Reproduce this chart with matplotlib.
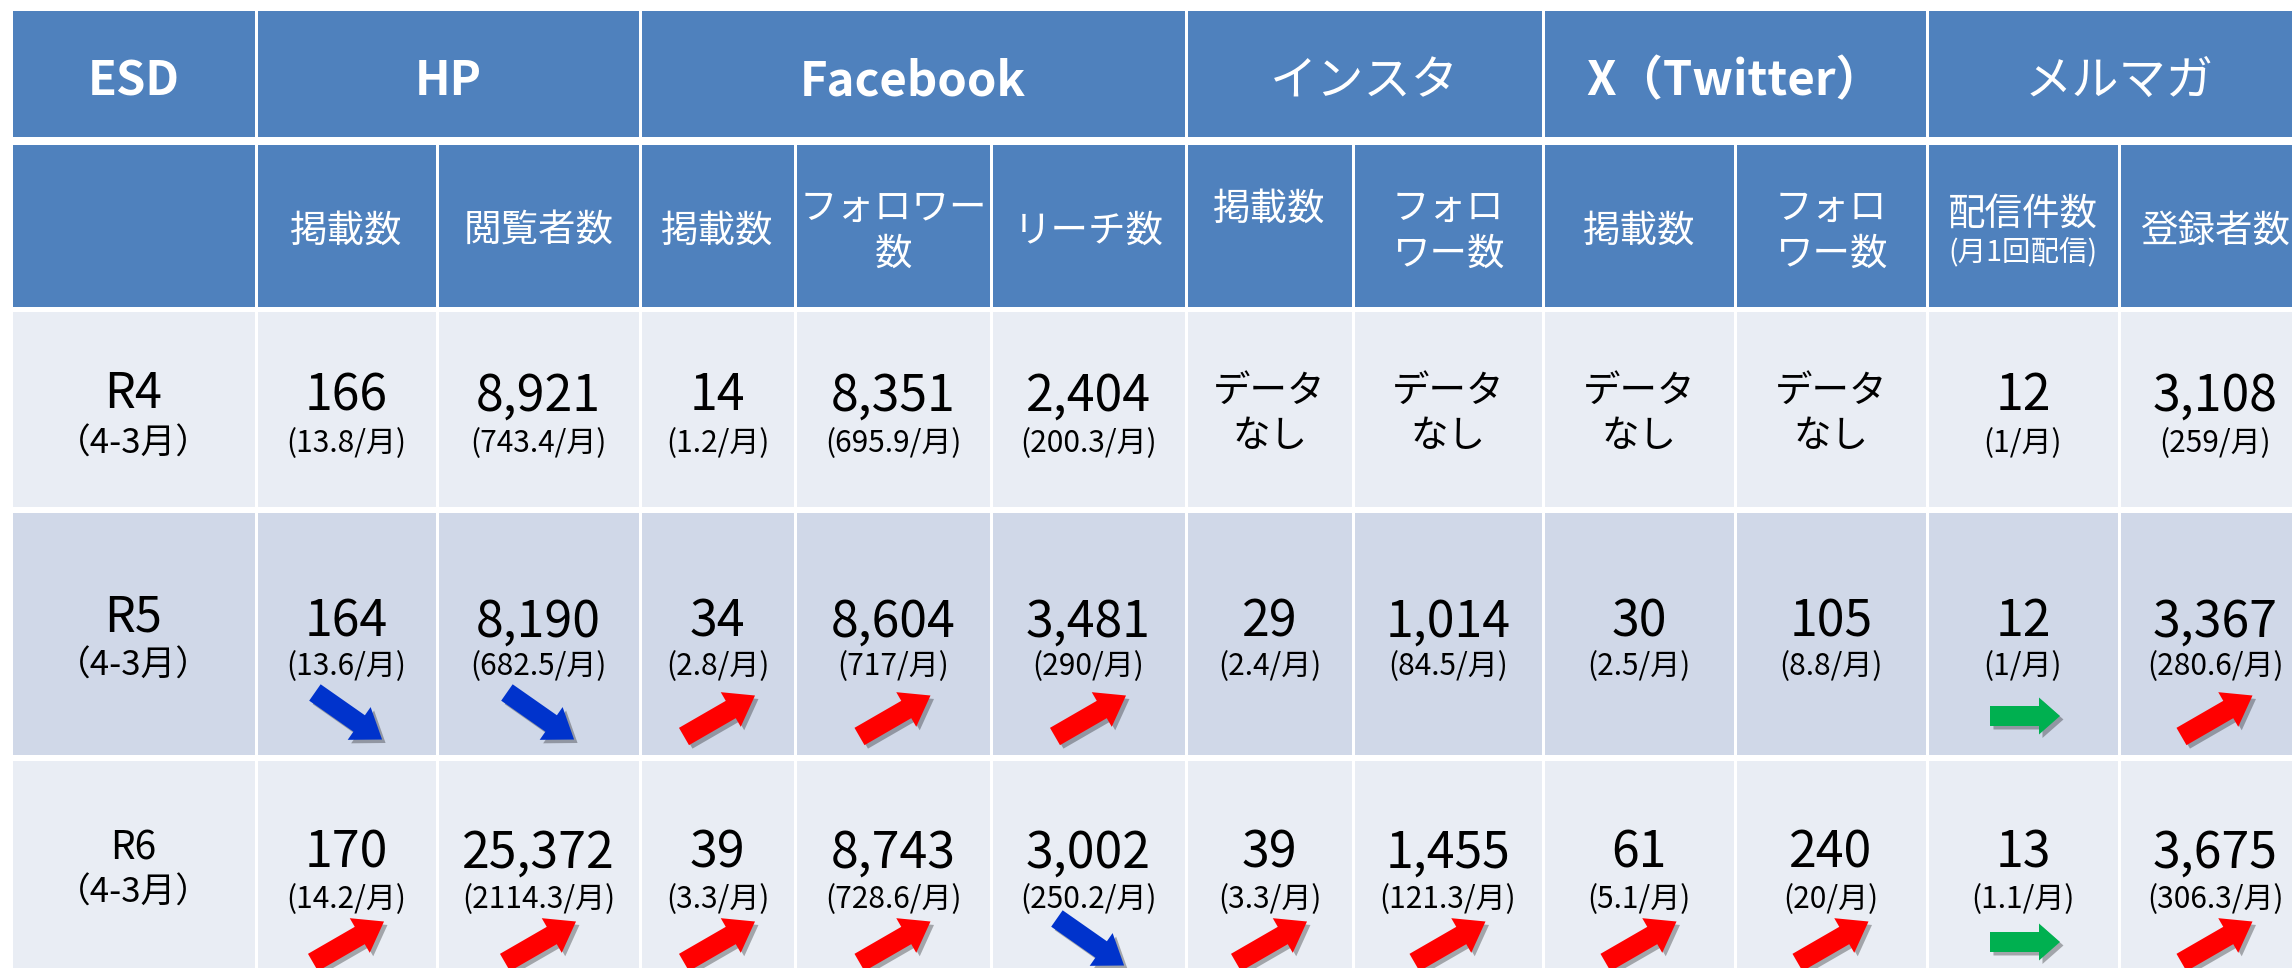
import matplotlib
matplotlib.use("Agg")
import matplotlib.pyplot as plt
from matplotlib.patches import Rectangle, FancyArrow
import matplotlib.patheffects as pe
import numpy as np

plt.rcParams['font.family'] = ['Noto Sans CJK JP', 'DejaVu Sans']

# ---------------- data ----------------
group_headers = ["ESD", "HP", "Facebook", "インスタ", "X（Twitter）", "メルマガ"]
group_spans = [(0, 1), (1, 3), (3, 6), (6, 8), (8, 10), (10, 12)]
group_bold = [True, True, True, False, True, False]

sub_headers = ["", "掲載数", "閲覧者数", "掲載数", "フォロワー\n数", "リーチ数",
               "掲載数", "フォロ\nワー数", "掲載数", "フォロ\nワー数", "配信件数", "登録者数"]
sub_note = {10: "(月1回配信)"}

row_labels = ["R4", "R5", "R6"]
row_period = "（4-3月）"

totals_r4 = [166, 8921, 14, 8351, 2404, None, None, None, None, 12, 3108]
monthly_r4 = ["13.8", "743.4", "1.2", "695.9", "200.3", None, None, None, None, "1", "259"]

totals_r5 = [164, 8190, 34, 8604, 3481, 29, 1014, 30, 105, 12, 3367]
monthly_r5 = ["13.6", "682.5", "2.8", "717", "290", "2.4", "84.5", "2.5", "8.8", "1", "280.6"]
trend_r5 = ["down", "down", "up", "up", "up", None, None, None, None, "flat", "up"]

totals_r6 = [170, 25372, 39, 8743, 3002, 39, 1455, 61, 240, 13, 3675]
monthly_r6 = ["14.2", "2114.3", "3.3", "728.6", "250.2", "3.3", "121.3", "5.1", "20", "1.1", "306.3"]
trend_r6 = ["up", "up", "up", "up", "down", "up", "up", "up", "up", "flat", "up"]

no_data_text = "データ\nなし"

# ---------------- layout ----------------
col_edges = [11, 256, 437, 640, 795, 991, 1186, 1353, 1543, 1735, 1927, 2119, 2311]
h1 = (11, 137)
h2 = (145, 307)
body_rows = [(310, 508), (511, 756), (759, 1004)]
row_colors = ["#E9EDF4", "#D0D8E8", "#E9EDF4"]
HEAD = "#4F81BD"
GAP = 1.5

fig = plt.figure(figsize=(22.92, 9.68), dpi=100)
ax = fig.add_axes([0, 0, 1, 1])
ax.set_xlim(0, 2292)
ax.set_ylim(968, 0)
ax.axis('off')


def cell(x0, x1, y0, y1, color):
    ax.add_patch(Rectangle((x0 + GAP, y0 + GAP), (x1 - x0) - 2 * GAP, (y1 - y0) - 2 * GAP,
                           facecolor=color, edgecolor='none', zorder=1))


def ctext(x, yc, s, size, color='black', weight='normal', k=0.37):
    # place text so that glyph ink is centered at yc (baseline offset in pixels)
    px = size * 100 / 72.0
    ax.text(x, yc + k * px, s, fontsize=size, color=color, weight=weight,
            ha='center', va='baseline', zorder=3)


# header row 1
for name, (a, b), bold in zip(group_headers, group_spans, group_bold):
    cell(col_edges[a], col_edges[b], h1[0] - GAP, h1[1] + GAP, HEAD)
    cx = (col_edges[a] + col_edges[b]) / 2
    ctext(cx, 78, name, 34, 'white', 'bold' if bold else 'normal', k=0.36)

# header row 2
for i, name in enumerate(sub_headers):
    x0, x1 = col_edges[i], col_edges[i + 1]
    cell(x0, x1, h2[0] - GAP, h2[1] + GAP, HEAD)
    cx = (x0 + x1) / 2
    if not name:
        continue
    lines = name.split("\n")
    if i == 6:
        ctext(cx, 205, name, 27, 'white', k=0.38)
    elif i in sub_note:
        ctext(cx, 210, name, 27, 'white', k=0.38)
        ctext(cx, 250, sub_note[i], 20.5, 'white', k=0.38)
    elif len(lines) == 2:
        ctext(cx, 205, lines[0], 27, 'white', k=0.38)
        ctext(cx, 250, lines[1], 27, 'white', k=0.38)
    else:
        ctext(cx, 227, name, 27, 'white', k=0.38)

arrow_style = {
    "up": dict(color="#FF0000", angle=30, L=82, w=20, hw=40, hl=28),
    "down": dict(color="#0033CC", angle=-35, L=82, w=20, hw=40, hl=28),
    "flat": dict(color="#00B050", angle=0, L=70, w=20, hw=37, hl=21),
}


def draw_arrow(cx, cy, trend):
    st = arrow_style[trend]
    th = np.deg2rad(st["angle"])
    dx, dy = st["L"] * np.cos(th), -st["L"] * np.sin(th)
    arr = FancyArrow(cx - dx / 2, cy - dy / 2, dx, dy, width=st["w"],
                     head_width=st["hw"], head_length=st["hl"],
                     length_includes_head=True, facecolor=st["color"],
                     edgecolor='none', zorder=4)
    arr.set_path_effects([pe.SimplePatchShadow(offset=(2.5, -2.5), shadow_rgbFace='black', alpha=0.3),
                          pe.Normal()])
    ax.add_patch(arr)


rows_data = [(totals_r4, monthly_r4, None), (totals_r5, monthly_r5, trend_r5),
             (totals_r6, monthly_r6, trend_r6)]
num_off = [82, 107, 90]
sub_off = [131, 153, 138]
arr_off = [None, 205, 183]
lab_off = [(80, 131), (103, 152), (86, 131)]
lab_size = [35, 35, 28]

for r, ((y0, y1), color, (tot, mon, tr)) in enumerate(zip(body_rows, row_colors, rows_data)):
    for i in range(len(col_edges) - 1):
        cell(col_edges[i], col_edges[i + 1], y0, y1, color)
    # label column
    cx = (col_edges[0] + col_edges[1]) / 2
    ctext(cx, y0 + lab_off[r][0], row_labels[r], lab_size[r], k=0.36)
    ctext(cx, y0 + lab_off[r][1], row_period, 25, k=0.37)
    for j in range(len(tot)):
        cx = (col_edges[j + 1] + col_edges[j + 2]) / 2
        if tot[j] is None:
            l1, l2 = no_data_text.split("\n")
            ctext(cx, y0 + 78, l1, 27, k=0.38)
            ctext(cx, y0 + 123, l2, 27, k=0.38)
            continue
        ctext(cx, y0 + num_off[r], f"{tot[j]:,}", 36, k=0.365)
        ctext(cx, y0 + sub_off[r], f"({mon[j]}/月)", 21.5, k=0.37)
        if tr is not None and tr[j] is not None:
            draw_arrow(cx + 2, y0 + arr_off[r], tr[j])

fig.savefig("out.png", dpi=100, facecolor='white')
